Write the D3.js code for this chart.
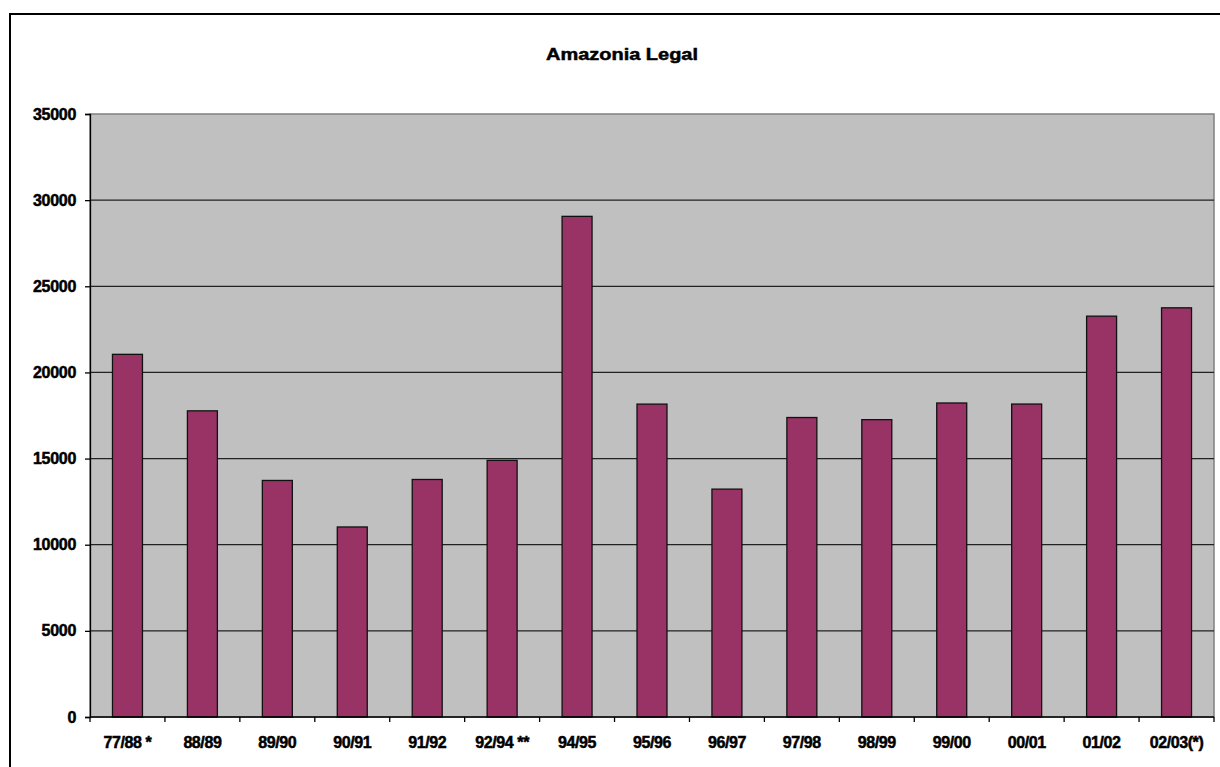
<!DOCTYPE html>
<html lang="pt">
<head>
<meta charset="UTF-8">
<title>Amazonia Legal</title>
<script src="https://d3js.org/d3.v7.min.js"></script>
<style>
    body { margin: 0; background: #fff; }
    svg text { font-family: "Liberation Sans", Arial, sans-serif; font-weight: bold; fill: #000; stroke: #000; stroke-width: 0.5px; }
</style>
</head>
<body>
<svg id="chart" width="1220" height="767"></svg>
<script>
    const periods = ['77/88 *', '88/89', '89/90', '90/91', '91/92', '92/94 **', '94/95',
        '95/96', '96/97', '97/98', '98/99', '99/00', '00/01', '01/02', '02/03(*)'];
    const deforestation = [21050, 17770, 13730, 11030, 13786, 14896, 29059,
        18161, 13227, 17383, 17259, 18226, 18165, 23266, 23750];
    const yTicks = [0, 5000, 10000, 15000, 20000, 25000, 30000, 35000];

    const svg = d3.select('#chart');
    const plot = { left: 90, right: 1214, top: 114, bottom: 717 };

    // outer frame
    svg.append('path')
        .attr('d', 'M10,780 V14 H1230')
        .attr('fill', 'none')
        .attr('stroke', '#000')
        .attr('stroke-width', 2);

    svg.append('text')
        .attr('x', 622)
        .attr('y', 60)
        .attr('text-anchor', 'middle')
        .attr('font-size', 17)
        .attr('textLength', 152)
        .attr('lengthAdjust', 'spacingAndGlyphs')
        .text('Amazonia Legal');

    const x = d3.scaleBand()
        .domain(periods)
        .range([plot.left, plot.right])
        .paddingInner(0.6)
        .paddingOuter(0.3);

    const y = d3.scaleLinear()
        .domain([0, 35000])
        .range([plot.bottom, plot.top]);

    svg.append('rect')
        .attr('x', plot.left)
        .attr('y', plot.top)
        .attr('width', plot.right - plot.left)
        .attr('height', plot.bottom - plot.top)
        .attr('fill', '#c0c0c0')
        .attr('stroke', '#808080')
        .attr('stroke-width', 1.5);

    // gridlines
    svg.append('g')
        .selectAll('line')
        .data(yTicks.filter(d => d > 0 && d < 35000))
        .enter()
        .append('line')
        .attr('x1', plot.left)
        .attr('x2', plot.right)
        .attr('y1', d => y(d))
        .attr('y2', d => y(d))
        .attr('stroke', '#222')
        .attr('stroke-width', 1.3);

    svg.append('g')
        .selectAll('rect')
        .data(deforestation)
        .enter()
        .append('rect')
        .attr('x', (d, i) => x(periods[i]))
        .attr('y', d => y(d))
        .attr('width', x.bandwidth())
        .attr('height', d => plot.bottom - y(d))
        .attr('fill', '#993366')
        .attr('stroke', '#111')
        .attr('stroke-width', 1.3);

    // y axis
    const yAxis = svg.append('g')
        .attr('transform', `translate(${plot.left},0)`)
        .call(d3.axisLeft(y).tickValues(yTicks).tickSize(5).tickPadding(9).tickFormat(d3.format('d')));
    yAxis.select('.domain').attr('stroke', '#000').attr('stroke-width', 1.3);
    yAxis.selectAll('.tick line').attr('stroke', '#000').attr('stroke-width', 1.3);
    yAxis.selectAll('text')
        .attr('font-size', 16)
        .attr('font-family', '"Liberation Sans", Arial, sans-serif')
        .attr('font-weight', 'bold')
        .attr('letter-spacing', -0.3)
        .attr('fill', '#000');

    // x axis: ticks at category boundaries
    const boundaries = d3.range(periods.length + 1).map(i => plot.left + i * x.step());
    const xg = svg.append('g');
    xg.append('line')
        .attr('x1', plot.left).attr('x2', plot.right)
        .attr('y1', plot.bottom).attr('y2', plot.bottom)
        .attr('stroke', '#000').attr('stroke-width', 1.3);
    xg.selectAll('line.tick')
        .data(boundaries)
        .enter()
        .append('line')
        .attr('class', 'tick')
        .attr('x1', d => d).attr('x2', d => d)
        .attr('y1', plot.bottom).attr('y2', plot.bottom + 5)
        .attr('stroke', '#000').attr('stroke-width', 1.3);
    xg.selectAll('text')
        .data(periods)
        .enter()
        .append('text')
        .attr('x', d => x(d) + x.bandwidth() / 2)
        .attr('y', 748)
        .attr('text-anchor', 'middle')
        .attr('font-size', 16)
        .attr('letter-spacing', -0.4)
        .text(d => d);
</script>
</body>
</html>
